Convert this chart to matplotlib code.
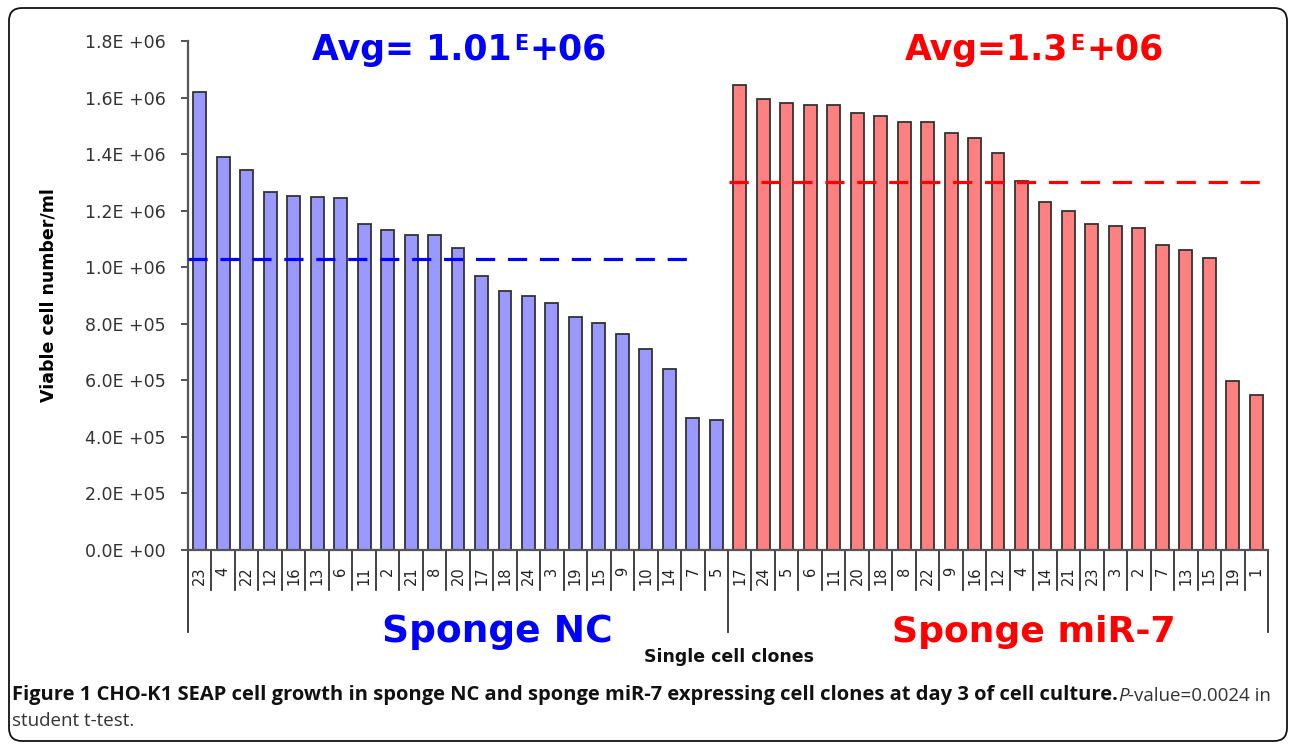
import matplotlib
matplotlib.use("Agg")
import matplotlib.pyplot as plt
import matplotlib.transforms as mtransforms
from matplotlib.patches import FancyBboxPatch

# clone ids and viable cell counts (cells/ml)
nc_clones = ["23", "4", "22", "12", "16", "13", "6", "11", "2", "21", "8", "20",
             "17", "18", "24", "3", "19", "15", "9", "10", "14", "7", "5"]
nc_values = [1.62e6, 1.39e6, 1.345e6, 1.266e6, 1.252e6, 1.25e6, 1.245e6, 1.153e6,
             1.13e6, 1.114e6, 1.114e6, 1.068e6, 0.969e6, 0.916e6, 0.90e6, 0.873e6,
             0.824e6, 0.803e6, 0.764e6, 0.711e6, 0.64e6, 0.467e6, 0.46e6]
mir_clones = ["17", "24", "5", "6", "11", "20", "18", "8", "22", "9", "16", "12",
              "4", "14", "21", "23", "3", "2", "7", "13", "15", "19", "1"]
mir_values = [1.644e6, 1.595e6, 1.58e6, 1.574e6, 1.574e6, 1.545e6, 1.535e6, 1.513e6,
              1.513e6, 1.474e6, 1.457e6, 1.404e6, 1.305e6, 1.231e6, 1.199e6, 1.153e6,
              1.146e6, 1.139e6, 1.079e6, 1.061e6, 1.033e6, 0.598e6, 0.548e6]
nc_avg = 1.03e6
mir_avg = 1.30e6
yticks = [0, 2e5, 4e5, 6e5, 8e5, 1e6, 1.2e6, 1.4e6, 1.6e6, 1.8e6]

W, H = 1290, 744
plt.rcParams['font.family'] = 'DejaVu Sans'

fig = plt.figure(figsize=(W / 100, H / 100), dpi=100)

def fx(px):
    return px / W

def fy(py):
    return 1 - py / H

ax = fig.add_axes([fx(188), fy(550), fx(1268) - fx(188), (550 - 41) / H])

n_nc = len(nc_values)
n_all = n_nc + len(mir_values)
x_nc = list(range(n_nc))
x_mir = list(range(n_nc, n_all))

ax.bar(x_nc, nc_values, width=0.55, color='#9999ff', edgecolor='#333333', linewidth=1.3)
ax.bar(x_mir, mir_values, width=0.55, color='#ff8080', edgecolor='#333333', linewidth=1.3)

ax.hlines(nc_avg, -0.5, 21.15, colors='#0000ff', linestyles=(0, (6, 4)), linewidth=2.3, zorder=3)
ax.hlines(mir_avg, 22.55, n_all - 0.5, colors='#ff0000', linestyles=(0, (6, 4)), linewidth=2.3, zorder=3)

ax.set_xlim(-0.5, n_all - 0.5)
ax.set_ylim(0, 1.8e6)
ax.set_yticks(yticks)
ax.set_yticklabels([('%.1E' % v).replace('E', 'E ') for v in yticks], fontsize=12.5, color='#333333')
ax.tick_params(axis='y', direction='out', length=5, width=1.3, color='#444444', pad=11)

ax.set_xticks(list(range(n_all)))
ax.set_xticklabels(nc_clones + mir_clones, rotation=90, fontsize=10.5, color='#222222')
ax.tick_params(axis='x', length=0, pad=12)

for s in ['top', 'right']:
    ax.spines[s].set_visible(False)
ax.spines['left'].set_color('#555555')
ax.spines['left'].set_linewidth(1.6)
ax.spines['bottom'].set_color('#555555')
ax.spines['bottom'].set_linewidth(1.6)

# category separators below the axis (excel style)
trans = mtransforms.blended_transform_factory(ax.transData, ax.transAxes)
for i in range(n_all + 1):
    xs = i - 0.5
    depth = -82 / 509 if i in (0, n_nc, n_all) else -40 / 509
    ax.plot([xs, xs], [0, depth], transform=trans, color='#333333', linewidth=1.3, clip_on=False)

ax.set_ylabel('Viable cell number/ml', fontsize=12.5, fontweight='bold', labelpad=0)
ax.yaxis.set_label_coords(-(188 - 58) / 1080, 0.5)

# average titles with a small raised "E"
def avg_title(x0, main, color):
    ta = fig.text(fx(x0), fy(60), main, color=color, fontsize=25,
                  fontweight='bold', ha='left', va='baseline')
    te = ax.annotate('E', xy=(1, 0), xycoords=ta, xytext=(1.5, 12), textcoords='offset points',
                     color=color, fontsize=15, fontweight='bold', ha='left', va='baseline',
                     annotation_clip=False)
    ax.annotate('+06', xy=(1, 0), xycoords=(te, ta), xytext=(1, 0), textcoords='offset points',
                color=color, fontsize=25, fontweight='bold', ha='left', va='bottom',
                annotation_clip=False)

avg_title(312, 'Avg= 1.01', '#0000ff')
avg_title(905, 'Avg=1.3', '#ff0000')

fig.text(fx(497), fy(632), 'Sponge NC', color='#0000ff', fontsize=27,
         fontweight='bold', ha='center', va='center')
fig.text(fx(1034), fy(632), 'Sponge miR-7', color='#ff0000', fontsize=26,
         fontweight='bold', ha='center', va='center')
fig.text(fx(729), fy(657), 'Single cell clones', color='#111111', fontsize=12.5,
         fontweight='bold', ha='center', va='center')

# caption
cap_font = 'Open Sans'
t1 = fig.text(fx(12), fy(705), 'Figure 1 CHO-K1 SEAP cell growth in sponge NC and sponge miR-7 '
              'expressing cell clones at day 3 of cell culture.', fontsize=14.5,
              fontweight='bold', family=cap_font, va='bottom', ha='left', color='#111111')
t2 = ax.annotate('P', xy=(1, 0), xycoords=t1, fontsize=13.5, fontstyle='italic',
                 family=cap_font, va='bottom', ha='left', color='#333333', annotation_clip=False)
t3 = ax.annotate('-value=0.0024 in', xy=(1, 0), xycoords=t2, fontsize=13.5,
                 family=cap_font, va='bottom', ha='left', color='#333333', annotation_clip=False)
fig.text(fx(12), fy(730), 'student t-test.', fontsize=13.5, family=cap_font,
         va='bottom', ha='left', color='#333333')

border = FancyBboxPatch((9, H - 741), 1287 - 9, 741 - 8,
                        boxstyle='round,pad=0,rounding_size=13',
                        transform=mtransforms.IdentityTransform(),
                        facecolor='none', edgecolor='#111111', linewidth=1.3)
fig.add_artist(border)

fig.savefig('out.png', dpi=100)
